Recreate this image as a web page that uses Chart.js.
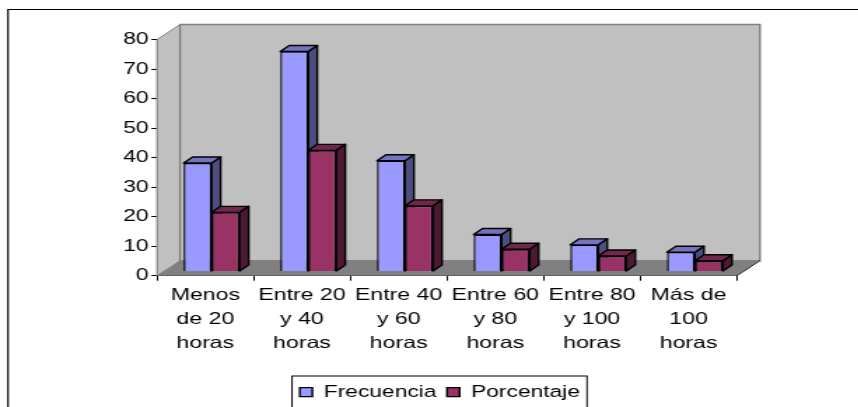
<!DOCTYPE html>
<html>
<head>
<meta charset="utf-8">
<style>
html, body { margin: 0; padding: 0; background: #fff; overflow: hidden; }
#chart { display: block; transform-origin: 0 0; transform: scaleX(1.4); }
</style>
<script src="https://cdn.jsdelivr.net/npm/chart.js@4"></script>
</head>
<body>
<canvas id="chart" width="613" height="407"></canvas>
<script>
const categories = [
    ['Menos', 'de 20', 'horas'],
    ['Entre 20', 'y 40', 'horas'],
    ['Entre 40', 'y 60', 'horas'],
    ['Entre 60', 'y 80', 'horas'],
    ['Entre 80', 'y 100', 'horas'],
    ['Más de', '100', 'horas']
];
const frecuencia = [36.7, 74.5, 37.5, 12.5, 9, 6.5];
const porcentaje = [20, 41, 22.2, 7.5, 5.2, 3.6];

// the reference is stretched sideways, so everything is drawn narrow and the canvas is scaled by 1.4
const SX = 1.4;
const wallDx = 23 / SX, wallDy = 15;
const barDx = 9 / SX, barDy = 6;
const shiftX = 6.3 / SX, shiftY = 4.3;
const faceColors = [['#4d4d80', '#7373bf'], ['#4d1a33', '#73264d']];

function poly(ctx, pts, fill, stroke, lw) {
    ctx.beginPath();
    pts.forEach((p, i) => i ? ctx.lineTo(p[0], p[1]) : ctx.moveTo(p[0], p[1]));
    ctx.closePath();
    if (fill) { ctx.fillStyle = fill; ctx.fill(); }
    if (stroke) { ctx.strokeStyle = stroke; ctx.lineWidth = lw; ctx.stroke(); }
}

const frame3d = {
    id: 'frame3d',
    afterLayout(chart) {
        // legend goes where the reference has it, its box is drawn in afterDraw
        const lg = chart.legend;
        lg.left = 206.6;
        lg.right = 440;
        lg.top = 376.5;
        lg.bottom = 409;
    },
    beforeDatasetsDraw(chart) {
        const { ctx, chartArea: a } = chart;
        ctx.save();
        // outer frame
        ctx.strokeStyle = '#000';
        ctx.lineWidth = 1.2;
        ctx.beginPath();
        ctx.moveTo(8 / SX, 410);
        ctx.lineTo(8 / SX, 9.5);
        ctx.lineTo(chart.width + 2, 9.5);
        ctx.stroke();
        // walls and floor
        const bl = a.left + wallDx, tp = a.top - wallDy, bb = a.bottom - wallDy, br = a.right + wallDx;
        poly(ctx, [[a.left, a.bottom], [a.left, a.top], [bl, tp], [bl, bb]], '#c0c0c0', '#808080', 1);
        poly(ctx, [[bl, tp], [br, tp], [br, bb], [bl, bb]], '#c0c0c0', '#808080', 1.4);
        poly(ctx, [[a.left, a.bottom], [bl, bb], [br, bb], [a.right, a.bottom]], '#808080');
        ctx.strokeStyle = '#000';
        ctx.lineWidth = 0.8;
        ctx.beginPath();
        ctx.moveTo(a.right, a.bottom);
        ctx.lineTo(br, bb);
        ctx.stroke();
        // side and top faces, left series first, the library then draws the fronts on top
        ctx.translate(shiftX, -shiftY);
        ctx.lineJoin = 'round';
        chart.data.datasets.forEach((ds, i) => {
            chart.getDatasetMeta(i).data.forEach(bar => {
                const l = bar.x - bar.width / 2, r = bar.x + bar.width / 2;
                poly(ctx, [[r, bar.y], [r + barDx, bar.y - barDy], [r + barDx, bar.base - barDy], [r, bar.base]], faceColors[i][0], '#000', 1.4);
                poly(ctx, [[l, bar.y], [l + barDx, bar.y - barDy], [r + barDx, bar.y - barDy], [r, bar.y]], faceColors[i][1], '#000', 1.4);
            });
        });
        ctx.restore();
    },
    beforeDatasetDraw(chart) {
        chart.ctx.save();
        chart.ctx.translate(shiftX, -shiftY);
    },
    afterDatasetDraw(chart) {
        chart.ctx.restore();
    },
    afterDraw(chart) {
        // box around the legend, cut by the bottom edge
        const ctx = chart.ctx;
        ctx.save();
        ctx.strokeStyle = '#000';
        ctx.lineWidth = 1;
        ctx.strokeRect(292 / SX, 376, 295 / SX, 40);
        ctx.restore();
    }
};

new Chart(document.getElementById('chart'), {
    type: 'bar',
    data: {
        labels: categories,
        datasets: [
            { label: 'Frecuencia', data: frecuencia, backgroundColor: '#9999ff', borderColor: '#000', borderWidth: 1.4 },
            { label: 'Porcentaje', data: porcentaje, backgroundColor: '#993366', borderColor: '#000', borderWidth: 1.4 }
        ]
    },
    options: {
        responsive: false,
        animation: false,
        devicePixelRatio: 1,
        layout: { padding: { left: 0, right: 86.6, top: 39.5, bottom: 0 } },
        datasets: { bar: { barPercentage: 1, categoryPercentage: 0.58 } },
        scales: {
            x: {
                grid: { drawOnChartArea: false, drawTicks: true, tickLength: 5, color: '#000', offset: true },
                border: { color: '#000', width: 1 },
                ticks: { color: '#000', font: { family: '"Liberation Sans"', size: 16.5, lineHeight: 1.46 }, maxRotation: 0, autoSkip: false, padding: 3 },
                afterFit: s => { s.height = 97.5; }
            },
            y: {
                min: 0,
                max: 80,
                grid: { drawOnChartArea: false, drawTicks: true, tickLength: 4, color: '#000' },
                border: { color: '#555', width: 1 },
                ticks: { stepSize: 10, color: '#000', font: { family: '"Liberation Sans"', size: 16.4 }, padding: 2 },
                afterFit: s => { s.width = 157 / SX; }
            }
        },
        plugins: {
            tooltip: { enabled: false },
            legend: {
                position: 'bottom',
                align: 'start',
                labels: { color: '#000', font: { family: '"Liberation Sans"', size: 16.3 }, boxWidth: 9, boxHeight: 9, padding: 7.5 }
            }
        }
    },
    plugins: [frame3d]
});
</script>
</body>
</html>
